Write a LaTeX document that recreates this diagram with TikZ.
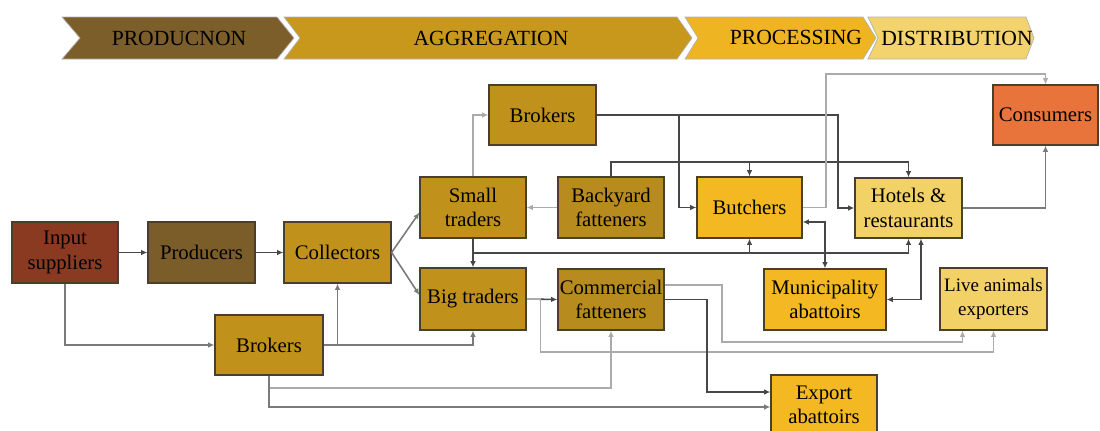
\documentclass[tikz,border=0pt]{standalone}
\usepackage{fontspec}
\setmainfont{Liberation Serif}
\usetikzlibrary{arrows.meta,calc}
\definecolor{cInput}{HTML}{8B3A22}
\definecolor{cProd}{HTML}{7B5D2A}
\definecolor{cAgg}{HTML}{C0921C}
\definecolor{cAggD}{HTML}{B88B1E}
\definecolor{cProc}{HTML}{F3B822}
\definecolor{cDist}{HTML}{F2D266}
\definecolor{cCons}{HTML}{E8743B}
\definecolor{bProd}{HTML}{7C5E2A}
\definecolor{bAgg}{HTML}{C8981C}
\definecolor{bProc}{HTML}{EFB421}
\definecolor{bDist}{HTML}{F3D36D}
\definecolor{boxline}{HTML}{4A3E2C}
\definecolor{lnDark}{HTML}{474747}
\definecolor{lnMid}{HTML}{7A7A7A}
\definecolor{lnLight}{HTML}{ABABAB}
\begin{document}
\begin{tikzpicture}[x=0.02cm,y=-0.02cm,
  font=\fontsize{11.8}{14}\selectfont,
  box/.style={draw=boxline, line width=0.7pt, inner sep=1pt, align=center},
  band/.style={draw=gray!60, line width=0.4pt},
  bandtext/.style={font=\fontsize{12.3}{14}\selectfont},
  tipc/.style={-{Latex[length=3.6pt,width=3.2pt]}},
  lkdark/.style={tipc, draw=lnDark, line width=0.9pt},
  lkmid/.style={tipc, draw=lnMid, line width=0.9pt},
  lklight/.style={tipc, draw=lnLight, line width=0.9pt},
  both/.style={{Latex[length=3.6pt,width=3.2pt]}-{Latex[length=3.6pt,width=3.2pt]}, draw=lnDark, line width=0.9pt}]
\useasboundingbox (0,0) rectangle (1100,430);

% ---- stage banner ----
\path[band, fill=bProd] (62,17) -- (277,17) -- (294,38) -- (277,59) -- (62,59) -- (80,38) -- cycle;
\path[band, fill=bAgg] (284,17) -- (677,17) -- (692,38) -- (677,59) -- (284,59) -- (300,38) -- cycle;
\path[band, fill=bProc] (685,17) -- (863,17) -- (876,38) -- (863,59) -- (685,59) -- (698,38) -- cycle;
\path[band, fill=bDist] (868,17) -- (1026,17) -- (1034,38) -- (1026,59) -- (868,59) -- (878,38) -- cycle;
\node[bandtext] (tProd) at (179,38) {PRODUCNON};
\node[bandtext] (tAgg) at (491,38) {AGGREGATION};
\node[bandtext] (tProc) at (796,37) {PROCESSING};
\node[bandtext] (tDist) at (957,38) {DISTRIBUTION};

% ---- nodes ----
\node[box, fill=cInput, minimum width=2.12cm, minimum height=1.22cm] (inp) at (65,252.5) {Input\\suppliers};
\node[box, fill=cProd, minimum width=2.14cm, minimum height=1.22cm] (prod) at (201.5,252.5) {Producers};
\node[box, fill=cAgg, minimum width=2.14cm, minimum height=1.22cm] (coll) at (337.5,252.5) {Collectors};
\node[box, fill=cAgg, minimum width=2.16cm, minimum height=1.2cm] (brkB) at (269,345) {Brokers};
\node[box, fill=cAgg, minimum width=2.12cm, minimum height=1.22cm] (small) at (473,207.5) {Small\\traders};
\node[box, fill=cAggD, minimum width=2.12cm, minimum height=1.22cm] (back) at (611,207.5) {Backyard\\fatteners};
\node[box, fill=cAgg, minimum width=2.14cm, minimum height=1.2cm] (brkT) at (542.5,115) {Brokers};
\node[box, fill=cProc, minimum width=2.1cm, minimum height=1.22cm] (butch) at (749.5,207.5) {Butchers};
\node[box, fill=cDist, minimum width=2.14cm, minimum height=1.2cm] (hotel) at (908.5,208) {Hotels \&\\restaurants};
\node[box, fill=cCons, minimum width=2.1cm, minimum height=1.2cm] (cons) at (1045.5,115) {Consumers};
\node[box, fill=cAgg, minimum width=2.12cm, minimum height=1.24cm] (big) at (473,299) {Big traders};
\node[box, fill=cAggD, minimum width=2.12cm, minimum height=1.22cm] (comm) at (611,299.5) {Commercial\\fatteners};
\node[box, fill=cProc, minimum width=2.44cm, minimum height=1.22cm] (muni) at (825,299.5) {Municipality\\abattoirs};
\node[box, fill=cDist, minimum width=2.14cm, minimum height=1.24cm, font=\fontsize{10.8}{13.5}\selectfont] (live) at (993.5,299) {Live animals\\exporters};
\node[box, fill=cProc, minimum width=2.12cm, minimum height=1.2cm] (exp) at (824,405) {Export\\abattoirs};

% ---- connectors ----
\draw[lkdark] (inp.east) -- (prod.west);
\draw[lkdark] (prod.east) -- (coll.west);
\draw[lkmid] (inp.south) |- (brkB.west);
\draw[lkmid] (brkB.east) -| (coll.south);
\draw[lkmid] (brkB.east) -| (big.south);
\draw[lklight] (brkB.south) |- (comm.south |- 0,388) -- (comm.south);
\draw[lkmid] (brkB.south) |- ($(exp.west)+(0,2)$);
\draw[lkmid] (coll.east) -- ($(small.west)+(0,5)$);
\draw[lkmid] (coll.east) -- ($(big.west)+(0,-4)$);
\draw[lklight] (small.north) |- (brkT.west);
\draw[lklight] (back.west) -- (small.east);
\draw[lkdark] (small.south) -- (big.north);
\draw[lkdark] (small.south) |- (butch.south |- 0,253) -- (butch.south);
\draw[lkdark] (small.south) |- (hotel.south |- 0,253) -- (hotel.south);
\draw[lkdark] (brkT.east) -| (679,207.5) -- (butch.west);
\draw[lkdark] (brkT.east) -| (838,208) -- (hotel.west);
\draw[lkdark] (back.north) |- (butch.north |- 0,162) -- (butch.north);
\draw[lkdark] (back.north) |- (hotel.north |- 0,162) -- (hotel.north);
\draw[lklight] (butch.east) -| (826,74) -| (cons.north);
\draw[lkmid] (hotel.east) -| (cons.south);
\draw[both] (butch.east |- 0,222) -| (muni.north);
\draw[both] (921,0 |- hotel.south) |- (muni.east);
\draw[lkdark] (big.east) -- (comm.west);
\draw[lklight] (big.east) -- ++(14,0) |- (live.south |- 0,352) -- (live.south);
\draw[lklight] (comm.east |- 0,285) -| (722,342) -| ($(live.south)+(-31,0)$);
\draw[lkdark] (comm.east) -| (707,392) -- ($(exp.west)+(0,-13)$);
\end{tikzpicture}
\end{document}
